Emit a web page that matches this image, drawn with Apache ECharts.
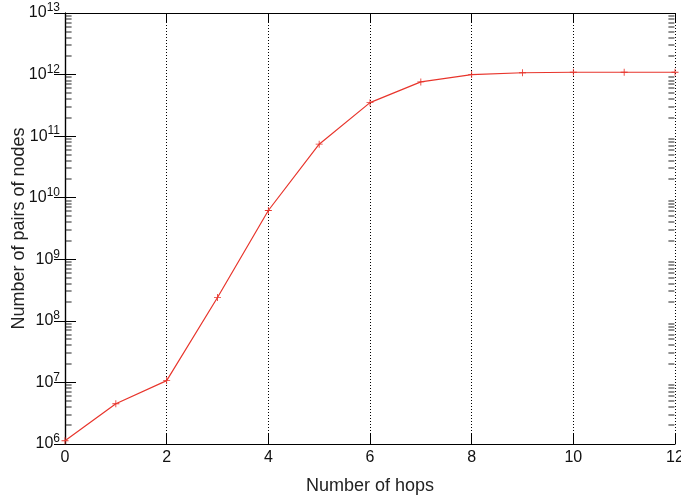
<!DOCTYPE html>
<html>
<head>
<meta charset="utf-8">
<script src="https://cdn.jsdelivr.net/npm/echarts@6/dist/echarts.min.js"></script>
<style>
  html, body { margin: 0; padding: 0; background: #fff; }
  #chart { width: 681px; height: 497px; }
</style>
</head>
<body>
<div id="chart"></div>
<script>
// hops on x, pairs of nodes (log scale) on y
var hops = [0, 1, 2, 3, 4, 5, 6, 7, 8, 9, 10, 11, 12];
var pairs = [1.13e6, 4.5e6, 1.07e7, 2.4e8, 6.2e9, 7.4e10, 3.5e11, 7.6e11, 1.0e12, 1.07e12, 1.09e12, 1.09e12, 1.09e12];
var xTicks = [0, 2, 4, 6, 8, 10, 12];
var yDecades = [6, 7, 8, 9, 10, 11, 12, 13];

var font = "Liberation Sans, Arial, Helvetica, sans-serif";

// minor log ticks 2..9 x 10^n
var minorTicks = [];
for (var d = 0; d < yDecades.length - 1; d++) {
  for (var k = 2; k <= 9; k++) {
    minorTicks.push([6, k * Math.pow(10, yDecades[d])]);
  }
}

var chart = echarts.init(document.getElementById("chart"));

var yLabel = {
  fontFamily: font,
  color: "#111",
  margin: 5,
  formatter: function (v) {
    var e = Math.round(Math.log10(v));
    return "{b|10}{s|" + e + "}";
  },
  rich: {
    b: { fontSize: 16, fontFamily: font, color: "#111" },
    s: { fontSize: 12, fontFamily: font, color: "#111", padding: [0, 0, 10, 0] }
  }
};

function tickSeries(side) {
  return {
    type: "custom",
    clip: false,
    silent: true,
    data: minorTicks,
    renderItem: function (params, api) {
      var p = api.coord([api.value(0), api.value(1)]);
      var cs = params.coordSys;
      var y = Math.round(p[1]) - 0.5;
      var x = side === "left" ? cs.x + 0.6 : cs.x + cs.width - 6.6;
      return {
        type: "rect",
        shape: { x: x, y: y, width: 6, height: 1 },
        style: { fill: "#222" }
      };
    },
    z: 10
  };
}

var option = {
  animation: false,
  backgroundColor: "#fff",
  grid: { left: 65, right: 6, top: 13, bottom: 53, outerBoundsMode: "none" },
  xAxis: [
    {
      type: "value",
      min: 0,
      max: 12,
      interval: 2,
      name: "Number of hops",
      nameLocation: "middle",
      nameGap: 33,
      nameMoveOverlap: false,
      nameTextStyle: { fontFamily: font, fontSize: 18, color: "#222" },
      axisLine: { lineStyle: { color: "#000", width: 1.2 } },
      axisTick: { inside: true, length: 10, lineStyle: { color: "#000" } },
      axisLabel: { fontFamily: font, fontSize: 16, color: "#111", margin: 6 },
      splitLine: { show: true, lineStyle: { color: "#000", type: [1, 2], width: 1 } }
    },
    {
      type: "value",
      position: "top",
      min: 0,
      max: 12,
      interval: 2,
      axisLine: { lineStyle: { color: "#000", width: 1.2 } },
      axisTick: { inside: true, length: 10, lineStyle: { color: "#000" } },
      axisLabel: { show: false },
      splitLine: { show: false }
    }
  ],
  yAxis: [
    {
      type: "log",
      logBase: 10,
      min: 1e6,
      max: 1e13,
      splitNumber: 7,
      name: "Number of pairs of nodes",
      nameLocation: "middle",
      nameGap: 37,
      nameMoveOverlap: false,
      nameTextStyle: { fontFamily: font, fontSize: 18, color: "#222" },
      axisLine: { show: true, lineStyle: { color: "#000", width: 1.2 } },
      axisTick: { inside: true, length: 11, lineStyle: { color: "#000" } },
      axisLabel: yLabel,
      splitLine: { show: false }
    },
    {
      type: "log",
      logBase: 10,
      min: 1e6,
      max: 1e13,
      splitNumber: 7,
      position: "right",
      axisLine: { show: true, lineStyle: { color: "#000", width: 1.2 } },
      axisTick: { inside: true, length: 11, lineStyle: { color: "#000" } },
      axisLabel: { show: false },
      splitLine: { show: false }
    }
  ],
  series: [
    {
      type: "line",
      data: hops.map(function (h, i) { return [h, pairs[i]]; }),
      symbol: "path://M0,4.4L10,4.4L10,5.6L0,5.6Z M4.4,0L5.6,0L5.6,10L4.4,10Z",
      symbolSize: 7,
      lineStyle: { color: "#e8352c", width: 1.2 },
      itemStyle: { color: "#e8352c" },
      z: 5
    },
    tickSeries("left"),
    tickSeries("right")
  ]
};

chart.setOption(option);
</script>
</body>
</html>
